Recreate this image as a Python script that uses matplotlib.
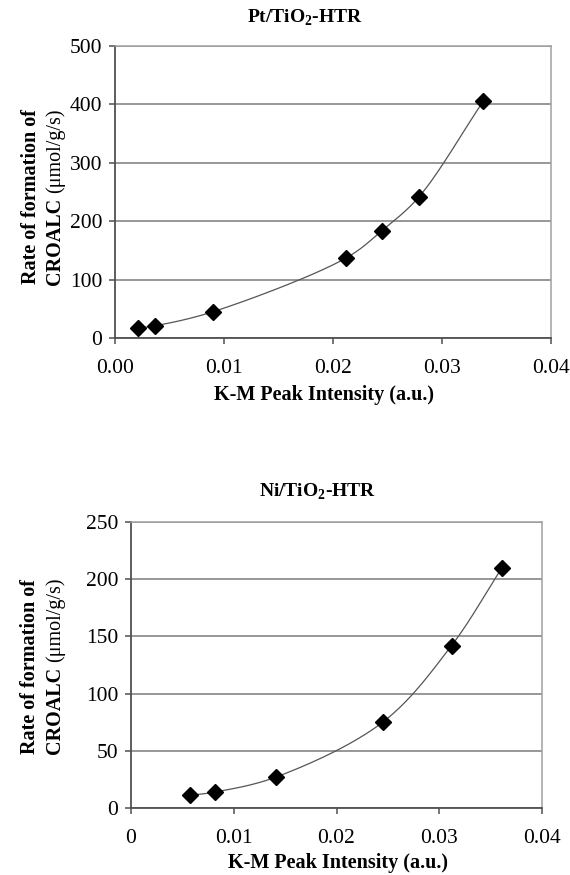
import matplotlib

matplotlib.use("Agg")

import matplotlib.pyplot as plt
import numpy as np

plt.rcParams["font.family"] = ["Liberation Serif", "DejaVu Serif"]
plt.rcParams["mathtext.fontset"] = "custom"
plt.rcParams["mathtext.rm"] = "Liberation Serif"
plt.rcParams["mathtext.bf"] = "Liberation Serif:bold"

# Pt/TiO2-HTR
pt_intensity = [0.0021, 0.0037, 0.0090, 0.0212, 0.0245, 0.0279, 0.0338]
pt_rate = [17, 21, 45, 137, 184, 242, 406]

# Ni/TiO2-HTR
ni_intensity = [0.0057, 0.0082, 0.0141, 0.0245, 0.0312, 0.0361]
ni_rate = [11, 14, 27, 75, 142, 210]

pt_xticks = [0.0, 0.01, 0.02, 0.03, 0.04]
pt_xticklabels = ["0.00", "0.01", "0.02", "0.03", "0.04"]
ni_xticks = [0.0, 0.01, 0.02, 0.03, 0.04]
ni_xticklabels = ["0", "0.01", "0.02", "0.03", "0.04"]

W, H = 570, 875


def smooth(x, y, sx, sy, n=40):
    # centripetal Catmull-Rom through the points, computed in display-like units
    P = np.column_stack([np.asarray(x, float) * sx, np.asarray(y, float) * sy])
    P = np.vstack([2 * P[0] - P[1], P, 2 * P[-1] - P[-2]])
    out = []
    for i in range(1, len(P) - 2):
        p0, p1, p2, p3 = P[i - 1], P[i], P[i + 1], P[i + 2]
        t0 = 0.0
        t1 = t0 + np.linalg.norm(p1 - p0) ** 0.5
        t2 = t1 + np.linalg.norm(p2 - p1) ** 0.5
        t3 = t2 + np.linalg.norm(p3 - p2) ** 0.5
        t = np.linspace(t1, t2, n)[:, None]
        a1 = (t1 - t) / (t1 - t0) * p0 + (t - t0) / (t1 - t0) * p1
        a2 = (t2 - t) / (t2 - t1) * p1 + (t - t1) / (t2 - t1) * p2
        a3 = (t3 - t) / (t3 - t2) * p2 + (t - t2) / (t3 - t2) * p3
        b1 = (t2 - t) / (t2 - t0) * a1 + (t - t0) / (t2 - t0) * a2
        b2 = (t3 - t) / (t3 - t1) * a2 + (t - t1) / (t3 - t1) * a3
        out.append((t2 - t) / (t2 - t1) * b1 + (t - t1) / (t2 - t1) * b2)
    c = np.vstack(out)
    return c[:, 0] / sx, c[:, 1] / sy


def draw_panel(ax, rect, x, y, ymax, ystep, xticks, xticklabels):
    sx, sy = smooth(x, y, rect[2] * W / 0.04, rect[3] * H / ymax)
    ax.plot(sx, sy, color="#555555", linewidth=0.9, zorder=2)
    ax.plot(x, y, linestyle="none", marker="D", markersize=8,
            color="black", zorder=3)
    ax.set_xlim(0, 0.04)
    ax.set_ylim(0, ymax)
    ax.set_xticks(xticks)
    ax.set_xticklabels(xticklabels)
    ax.set_yticks(np.arange(0, ymax + 1, ystep))
    ax.grid(True, axis="y", color="#7a7a7a", linewidth=1.1)
    ax.set_axisbelow(True)
    for side in ("top", "right"):
        ax.spines[side].set_color("#a0a0a0")
        ax.spines[side].set_linewidth(1.1)
    for side in ("left", "bottom"):
        ax.spines[side].set_color("#505050")
        ax.spines[side].set_linewidth(1.3)
    ax.tick_params(axis="both", labelsize=15.5, color="#505050",
                   direction="out", length=4, width=1.1)
    ax.tick_params(axis="x", pad=11)
    ax.tick_params(axis="y", pad=5)


def ylabel(fig, x1, x2, yc):
    # two-line rotated label, second line mixes bold and regular weight
    kw = dict(rotation=90, rotation_mode="anchor", va="baseline", fontsize=14.5)
    fig.text(x1 / W, 1 - yc / H, "Rate of formation of", ha="center",
             fontweight="bold", **kw)
    bold = fig.text(x2 / W, 0, "CROALC", ha="left", fontweight="bold", **kw)
    reg = fig.text(x2 / W, 0, "(\u03bcmol/g/s)", ha="left", **kw)
    r = fig.canvas.get_renderer()
    h1 = bold.get_window_extent(r).height
    h2 = reg.get_window_extent(r).height
    gap = 5
    start = (H - yc) - (h1 + gap + h2) / 2
    bold.set_y(start / H)
    reg.set_y((start + h1 + gap) / H)


fig = plt.figure(figsize=(W / 100, H / 100), dpi=100)
fig.patch.set_facecolor("white")

pt_rect = [115 / W, 1 - 338 / H, 436 / W, 292 / H]
ax_pt = fig.add_axes(pt_rect)
draw_panel(ax_pt, pt_rect, pt_intensity, pt_rate, 500, 100,
           pt_xticks, pt_xticklabels)

ni_rect = [131 / W, 1 - 808 / H, 411 / W, 286 / H]
ax_ni = fig.add_axes(ni_rect)
draw_panel(ax_ni, ni_rect, ni_intensity, ni_rate, 250, 50,
           ni_xticks, ni_xticklabels)

fig.text(305 / W, 1 - 18 / H, r"Pt/TiO$_\mathbf{2}$-HTR",
         ha="center", va="center", fontsize=14, fontweight="bold")
fig.text(324 / W, 1 - 395 / H, "K-M Peak Intensity (a.u.)",
         ha="center", va="center", fontsize=14.5, fontweight="bold")
ylabel(fig, 36, 60, 197)

fig.text(318 / W, 1 - 492 / H, r"Ni/TiO$_\mathbf{2}$-HTR",
         ha="center", va="center", fontsize=14, fontweight="bold")
fig.text(338 / W, 1 - 863 / H, "K-M Peak Intensity (a.u.)",
         ha="center", va="center", fontsize=14.5, fontweight="bold")
ylabel(fig, 35, 60, 666)

fig.savefig("out.png", dpi=100, facecolor="white")
